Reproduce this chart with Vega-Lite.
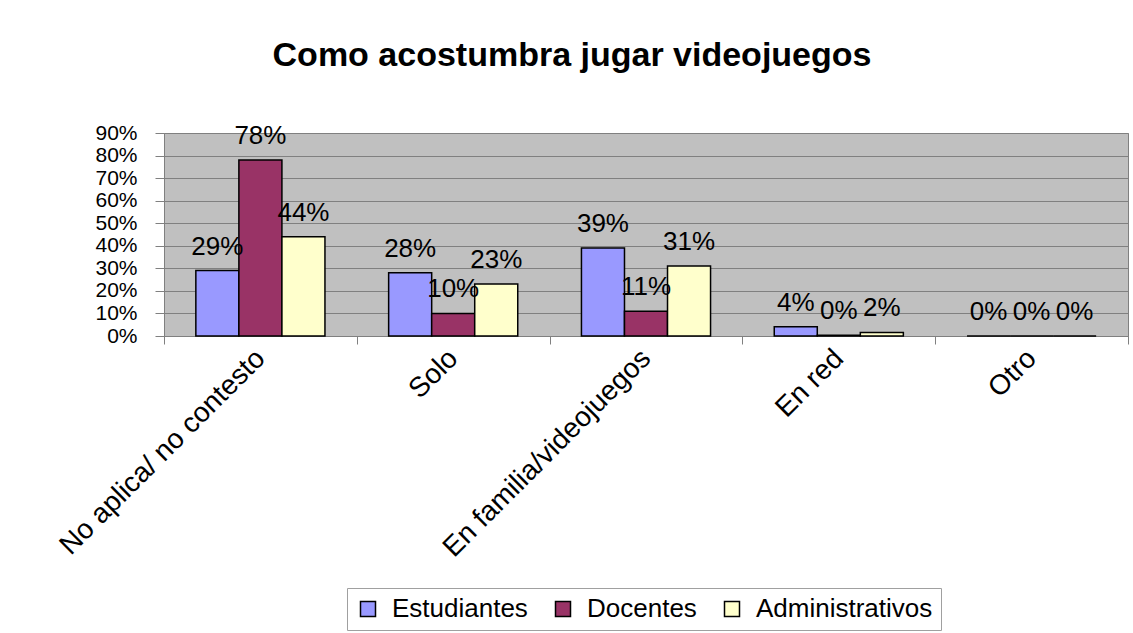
{
  "$schema": "https://vega.github.io/schema/vega-lite/v6.json",
  "width": 964,
  "height": 203,
  "autosize": {"type": "none"},
  "padding": {"left": 164, "top": 133, "right": 5, "bottom": 297},
  "background": "white",
  "title": {
    "text": "Como acostumbra jugar videojuegos",
    "font": "Liberation Sans",
    "fontSize": 34,
    "fontWeight": "bold",
    "color": "black",
    "anchor": "middle",
    "frame": "group",
    "dx": -74,
    "baseline": "alphabetic",
    "offset": 22
  },
  "config": {
    "font": "Liberation Sans",
    "view": {"fill": "#c0c0c0", "stroke": "#808080", "strokeWidth": 1}
  },
  "data": {
    "values": [
      {"categoria": "No aplica/ no contesto", "grupo": "Estudiantes", "valor": 0.29},
      {"categoria": "No aplica/ no contesto", "grupo": "Docentes", "valor": 0.78},
      {"categoria": "No aplica/ no contesto", "grupo": "Administrativos", "valor": 0.44},
      {"categoria": "Solo", "grupo": "Estudiantes", "valor": 0.28},
      {"categoria": "Solo", "grupo": "Docentes", "valor": 0.10},
      {"categoria": "Solo", "grupo": "Administrativos", "valor": 0.23},
      {"categoria": "En familia/videojuegos", "grupo": "Estudiantes", "valor": 0.39},
      {"categoria": "En familia/videojuegos", "grupo": "Docentes", "valor": 0.11},
      {"categoria": "En familia/videojuegos", "grupo": "Administrativos", "valor": 0.31},
      {"categoria": "En red", "grupo": "Estudiantes", "valor": 0.041},
      {"categoria": "En red", "grupo": "Docentes", "valor": 0.003},
      {"categoria": "En red", "grupo": "Administrativos", "valor": 0.016},
      {"categoria": "Otro", "grupo": "Estudiantes", "valor": 0},
      {"categoria": "Otro", "grupo": "Docentes", "valor": 0},
      {"categoria": "Otro", "grupo": "Administrativos", "valor": 0}
    ]
  },
  "encoding": {
    "x": {
      "field": "categoria",
      "type": "nominal",
      "sort": ["No aplica/ no contesto", "Solo", "En familia/videojuegos", "En red", "Otro"],
      "scale": {"paddingInner": 0, "paddingOuter": 0},
      "axis": {
        "title": null,
        "labelAngle": -45,
        "labelAlign": "right",
        "labelBaseline": "middle",
        "labelFontSize": 28,
        "labelColor": "black",
        "labelPadding": 10,
        "tickBand": "extent",
        "tickSize": 8,
        "tickColor": "#808080",
        "domainColor": "#808080",
        "grid": false,
        "labelLimit": 0,
        "labelOverlap": false
      }
    },
    "xOffset": {
      "field": "grupo",
      "type": "nominal",
      "sort": ["Estudiantes", "Docentes", "Administrativos"],
      "scale": {"paddingInner": 0, "paddingOuter": 0.74}
    },
    "y": {
      "field": "valor",
      "type": "quantitative",
      "scale": {"domain": [0, 0.9], "nice": false},
      "axis": {
        "title": null,
        "values": [0, 0.1, 0.2, 0.3, 0.4, 0.5, 0.6, 0.7, 0.8, 0.9],
        "format": ".0%",
        "labelFontSize": 21,
        "labelColor": "black",
        "labelPadding": 18,
        "labelOverlap": false,
        "labelFlush": false,
        "tickSize": 9,
        "tickColor": "#808080",
        "domainColor": "#808080",
        "grid": true,
        "gridColor": "#808080",
        "gridOpacity": 1
      }
    }
  },
  "layer": [
    {
      "mark": {"type": "bar", "stroke": "black", "strokeWidth": 1.5},
      "encoding": {
        "color": {
          "field": "grupo",
          "type": "nominal",
          "sort": ["Estudiantes", "Docentes", "Administrativos"],
          "scale": {
            "domain": ["Estudiantes", "Docentes", "Administrativos"],
            "range": ["#9999ff", "#993366", "#ffffcc"]
          },
          "legend": {
            "title": null,
            "orient": "none",
            "legendX": 183,
            "legendY": 455,
            "direction": "horizontal",
            "strokeColor": "#a0a0a0",
            "fillColor": "white",
            "padding": 8,
            "symbolType": "square",
            "symbolSize": 225,
            "symbolStrokeColor": "black",
            "symbolStrokeWidth": 1.5,
            "symbolOpacity": 1,
            "labelFontSize": 26,
            "labelColor": "black",
            "labelOffset": 11,
            "columnPadding": 22,
            "labelLimit": 0
          }
        }
      }
    },
    {
      "mark": {"type": "text", "fontSize": 26, "color": "black", "baseline": "alphabetic", "dy": -16},
      "encoding": {
        "text": {"field": "valor", "type": "quantitative", "format": ".0%"}
      }
    }
  ]
}
